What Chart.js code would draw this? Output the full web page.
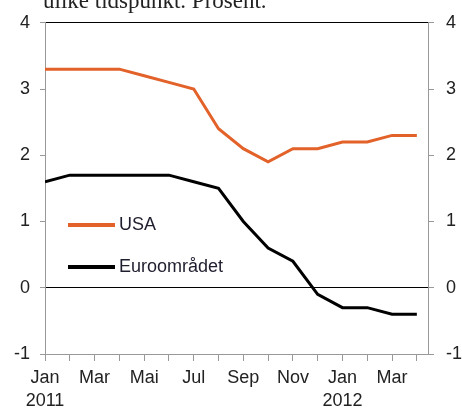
<!DOCTYPE html>
<html>
<head>
<meta charset="utf-8">
<script src="https://cdn.jsdelivr.net/npm/chart.js@4/dist/chart.umd.min.js"></script>
<style>
  html, body { margin: 0; padding: 0; background: #fff; }
  canvas { display: block; }
</style>
</head>
<body>
<canvas id="chart" width="462" height="410"></canvas>
<script>
// --- data ---
const months = ['Jan', 'Feb', 'Mar', 'Apr', 'Mai', 'Jun', 'Jul', 'Aug', 'Sep', 'Okt', 'Nov', 'Des', 'Jan', 'Feb', 'Mar', 'Apr'];
const years = { 0: '2011', 12: '2012' };
const usa = [3.3, 3.3, 3.3, 3.3, 3.2, 3.1, 3.0, 2.4, 2.1, 1.9, 2.1, 2.1, 2.2, 2.2, 2.3, 2.3];
const euro = [1.6, 1.7, 1.7, 1.7, 1.7, 1.7, 1.6, 1.5, 1.0, 0.6, 0.4, -0.1, -0.3, -0.3, -0.4, -0.4];
const yTicks = [-1, 0, 1, 2, 3, 4];

const ORANGE = '#e2622a';
const font = { family: '"Liberation Sans", Arial, sans-serif', size: 18 };

// title remnant + legend drawn by hand
const extras = {
  id: 'extras',
  afterDraw(chart) {
    const ctx = chart.ctx;
    ctx.save();
    ctx.fillStyle = '#222';
    ctx.font = '23px "Liberation Serif", serif';
    ctx.textBaseline = 'alphabetic';
    ctx.fillText('ulike tidspunkt. Prosent.', 43, 8);

    const rows = [[chart.data.datasets[0], 225], [chart.data.datasets[1], 267]];
    ctx.font = '18px "Liberation Sans", Arial, sans-serif';
    ctx.textBaseline = 'middle';
    rows.forEach(([ds, y]) => {
      ctx.strokeStyle = ds.borderColor;
      ctx.lineWidth = 4;
      ctx.beginPath();
      ctx.moveTo(68, y);
      ctx.lineTo(115, y);
      ctx.stroke();
      ctx.fillStyle = '#1e1e2e';
      ctx.fillText(ds.label, 119, y);
    });
    ctx.restore();
  }
};

const yAxis = (pos) => ({
  position: pos,
  min: -1,
  max: 4,
  afterBuildTicks: (axis) => { axis.ticks = yTicks.map(v => ({ value: v })); },
  ticks: { font, color: '#222', padding: pos === 'left' ? 10 : 12 },
  border: { color: '#999' },
  grid: pos === 'left'
    ? {
        color: (c) => (c.tick && (c.tick.value === 0 || c.tick.value === 4)) ? '#000' : 'rgba(0,0,0,0)',
        tickColor: '#999',
        tickLength: 5
      }
    : { drawOnChartArea: false, tickColor: '#999', tickLength: 6 },
  afterFit: (axis) => { axis.width = pos === 'left' ? 45 : 34; }
});

new Chart(document.getElementById('chart'), {
  type: 'line',
  data: {
    datasets: [
      {
        label: 'USA',
        data: usa.map((v, i) => ({ x: i, y: v })),
        borderColor: ORANGE,
        borderWidth: 3,
        pointRadius: 0,
        tension: 0
      },
      {
        label: 'Euroområdet',
        data: euro.map((v, i) => ({ x: i, y: v })),
        borderColor: '#000',
        borderWidth: 3,
        pointRadius: 0,
        tension: 0
      }
    ]
  },
  options: {
    responsive: false,
    devicePixelRatio: 1,
    animation: false,
    layout: { padding: { top: 20, left: 0, right: 0, bottom: 0 } },
    plugins: { legend: { display: false }, tooltip: { enabled: false } },
    scales: {
      x: {
        type: 'linear',
        min: 0,
        max: 15.45,
        afterBuildTicks: (axis) => { axis.ticks = months.map((m, i) => ({ value: i })); },
        ticks: {
          autoSkip: false,
          maxRotation: 0,
          font: { ...font, lineHeight: 1.25 },
          color: '#222',
          padding: 6,
          callback: (v) => (v % 2 ? '' : (years[v] ? [months[v], years[v]] : months[v]))
        },
        border: { color: '#999' },
        grid: { drawOnChartArea: false, tickColor: '#999', tickLength: 7 },
        afterFit: (axis) => { axis.height = 56; }
      },
      y: yAxis('left'),
      y2: yAxis('right')
    }
  },
  plugins: [extras]
});
</script>
</body>
</html>
